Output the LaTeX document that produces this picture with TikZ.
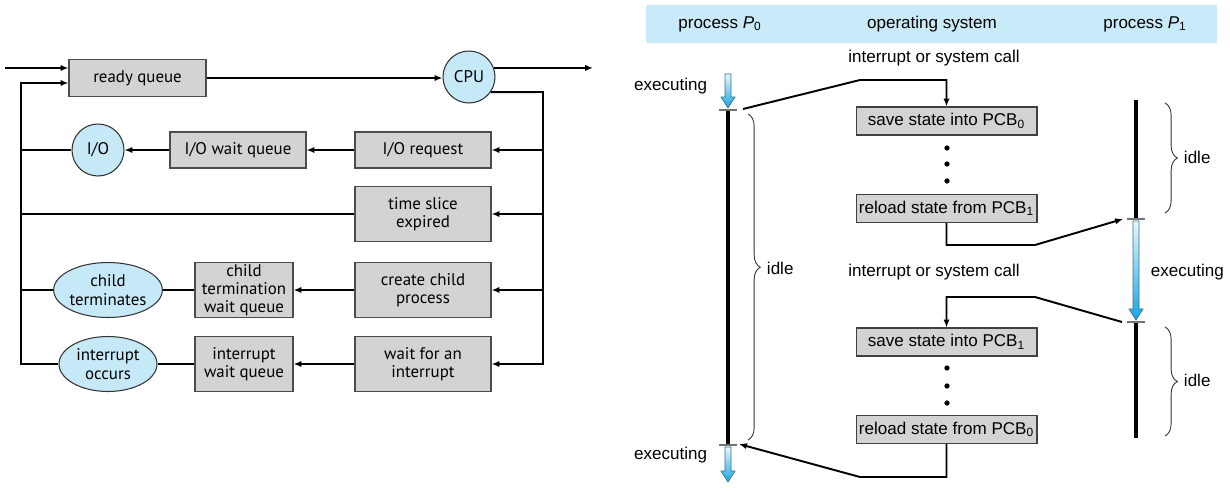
\documentclass[tikz,border=0pt]{standalone}
\usepackage{fontspec}
\setmainfont{Liberation Sans}
\newfontfamily\queuefont{PT Sans}
\usetikzlibrary{positioning,arrows.meta}
\usetikzlibrary{shapes.geometric}
\usetikzlibrary{decorations.pathreplacing}

\definecolor{boxgray}{HTML}{D3D3D5}
\definecolor{devblue}{HTML}{C6E9F8}
\definecolor{bandblue}{HTML}{C9EAF8}
\definecolor{execblue}{HTML}{15A6E0}
\definecolor{execlight}{HTML}{E8F7FD}
\definecolor{execedge}{HTML}{3E6E88}

% shaded "executing" arrow: x, top, tip
\newcommand{\execarrow}[3]{%
  \shade[top color=execlight, bottom color=execblue, draw=execedge, line width=0.4pt]
    (#1-3,#2) -- (#1+3,#2) -- (#1+3,#3-11) -- (#1+7,#3-11) -- (#1,#3)
    -- (#1-7,#3-11) -- (#1-3,#3-11) -- cycle;}

\begin{document}
\begin{tikzpicture}[x=0.02cm, y=-0.02cm, line width=1.1pt,
    >={Latex[length=4.5pt,width=3.6pt]},
    queue/.style={draw=black!70, fill=boxgray, line width=0.6pt, align=center,
      minimum width=2.72cm, minimum height=0.72cm, inner sep=1pt,
      font=\queuefont\fontsize{9.6}{10.4}\selectfont},
    tallq/.style={queue, minimum height=1.1cm},
    narrowq/.style={queue, minimum width=1.96cm, minimum height=1.1cm},
    device/.style={circle, draw=black!80, fill=devblue, line width=0.6pt,
      minimum size=1.04cm, inner sep=0pt, font=\queuefont\fontsize{9.6}{10.4}\selectfont},
    event/.style={ellipse, draw=black!80, fill=devblue, line width=0.6pt, align=center,
      minimum width=1.96cm, minimum height=1.1cm, inner sep=0pt,
      font=\queuefont\fontsize{9.6}{10.4}\selectfont},
    pcb/.style={draw=black!75, fill=boxgray, line width=0.6pt,
      minimum width=3.62cm, minimum height=0.56cm, inner sep=0pt,
      font=\fontsize{9.7}{11}\selectfont},
    lbl/.style={inner sep=0pt, font=\fontsize{9.7}{11}\selectfont},
    tick/.style={draw=black!55, line width=0.6pt},
    timeline/.style={line width=2.3pt},
    idlebrace/.style={decorate, decoration={brace, amplitude=7pt}, line width=0.5pt, black!80}]
  \useasboundingbox (0,0) rectangle (1230,490);

  % scheduling queues
  \node[queue, minimum width=2.74cm, minimum height=0.74cm] (rq) at (137.5,78) {ready queue};
  \node[device] (cpu) at (469,77) {CPU};
  \node[device] (io) at (98,150) {I/O};
  \node[queue] (iowq) at (238,150) {I/O wait queue};
  \node[queue] (ioreq) at (423,150) {I/O request};
  \node[tallq] (slice) at (423,214) {time slice\\expired};
  \node[tallq] (fork) at (423,290) {create child\\process};
  \node[narrowq] (ctwq) at (244,290) {child\\termination\\wait queue};
  \node[event] (cterm) at (108,290) {child\\terminates};
  \node[tallq] (wint) at (423,364) {wait for an\\interrupt};
  \node[narrowq] (iwq) at (244,364) {interrupt\\wait queue};
  \node[event] (intr) at (108,364) {interrupt\\occurs};

  \coordinate (in) at (5,68);
  \coordinate (out) at (593,68);
  \coordinate (busL) at (21,83);
  \coordinate (busR) at (543,92);

  \draw[->] (in) -- (rq.west |- in);
  \draw[->] (rq.east) -- (rq.east -| cpu.west);
  \draw[->] (cpu.20) -- (cpu.20 -| out);
  \draw[->] (cpu.-35) -- (busR) -- (busR |- wint) -- (wint.east);
  \foreach \n in {ioreq, slice, fork}
    \draw[->] (busR |- \n) -- (\n.east);
  \draw[->] (ioreq.west) -- (iowq.east);
  \draw[->] (iowq.west) -- (io.east);
  \draw[->] (fork.west) -- (ctwq.east);
  \draw (ctwq.west) -- (cterm.east);
  \draw[->] (wint.west) -- (iwq.east);
  \draw (iwq.west) -- (intr.east);
  \draw[->] (intr.west) -| (busL) -- (rq.west |- busL);
  \foreach \n in {io, slice, cterm}
    \draw (\n.west) -- (busL |- \n);

  % context switch
  \fill[bandblue] (646,5) rectangle (1217,43);
  \node[lbl] (hp0) at (720,24) {process {\itshape P}\textsubscript{0}};
  \node[lbl] (hos) at (932,24) {operating system};
  \node[lbl] (hp1) at (1145,24) {process {\itshape P}\textsubscript{1}};

  \node[lbl] (irq0) at (934,58) {interrupt or system call};
  \node[lbl] (irq1) at (934,272) {interrupt or system call};
  \node[lbl, anchor=east] (ex0) at (708,86) {executing};
  \node[lbl, anchor=east] (ex0b) at (708,455) {executing};
  \node[lbl, anchor=west] (ex1) at (1150,272) {executing};

  \node[pcb] (save0) at (946.5,121) {save state into PCB\textsubscript{0}};
  \node[pcb] (reload1) at (946.5,208.5) {reload state from PCB\textsubscript{1}};
  \node[pcb] (save1) at (946.5,342) {save state into PCB\textsubscript{1}};
  \node[pcb] (reload0) at (946.5,429.5) {reload state from PCB\textsubscript{0}};
  \foreach \y in {148,164,181,368,386,403}
    \fill (947,\y) circle (1.5pt);

  \draw[timeline] (728,110) -- (728,445);
  \draw[timeline] (1136,100) -- (1136,219);
  \draw[timeline] (1136,322) -- (1136,438);
  \foreach \x/\y in {728/110, 728/445, 1136/219, 1136/322}
    \draw[tick] (\x-9,\y) -- (\x+9,\y);
  \execarrow{728}{74}{108}
  \execarrow{728}{447}{482}
  \execarrow{1136}{221}{320}

  \draw[idlebrace, decoration={aspect=0.47}] (748,114) -- (748,440);
  \node[lbl, anchor=west] (idle0) at (766,268) {idle};
  \draw[idlebrace] (1165,103) -- (1165,213);
  \node[lbl, anchor=west] (idle1) at (1183,157) {idle};
  \draw[idlebrace] (1165,327) -- (1165,436);
  \node[lbl, anchor=west] (idle2) at (1183,380) {idle};

  \coordinate (sw0) at (743,109);
  \coordinate (k0) at (860,80);
  \coordinate (k1) at (1035,245);
  \coordinate (in1) at (1123,219);
  \coordinate (sw1) at (1122,322);
  \coordinate (k2) at (1035,297);
  \coordinate (k3) at (860,477);
  \coordinate (in0) at (739,444);

  \draw[->] (sw0) -- (k0) -- (k0 -| save0) -- (save0.north);
  \draw[->] (reload1.south) |- (k1) -- (in1);
  \draw[->] (sw1) -- (k2) -- (k2 -| save1) -- (save1.north);
  \draw[->] (reload0.south) |- (k3) -- (in0);
\end{tikzpicture}
\end{document}
